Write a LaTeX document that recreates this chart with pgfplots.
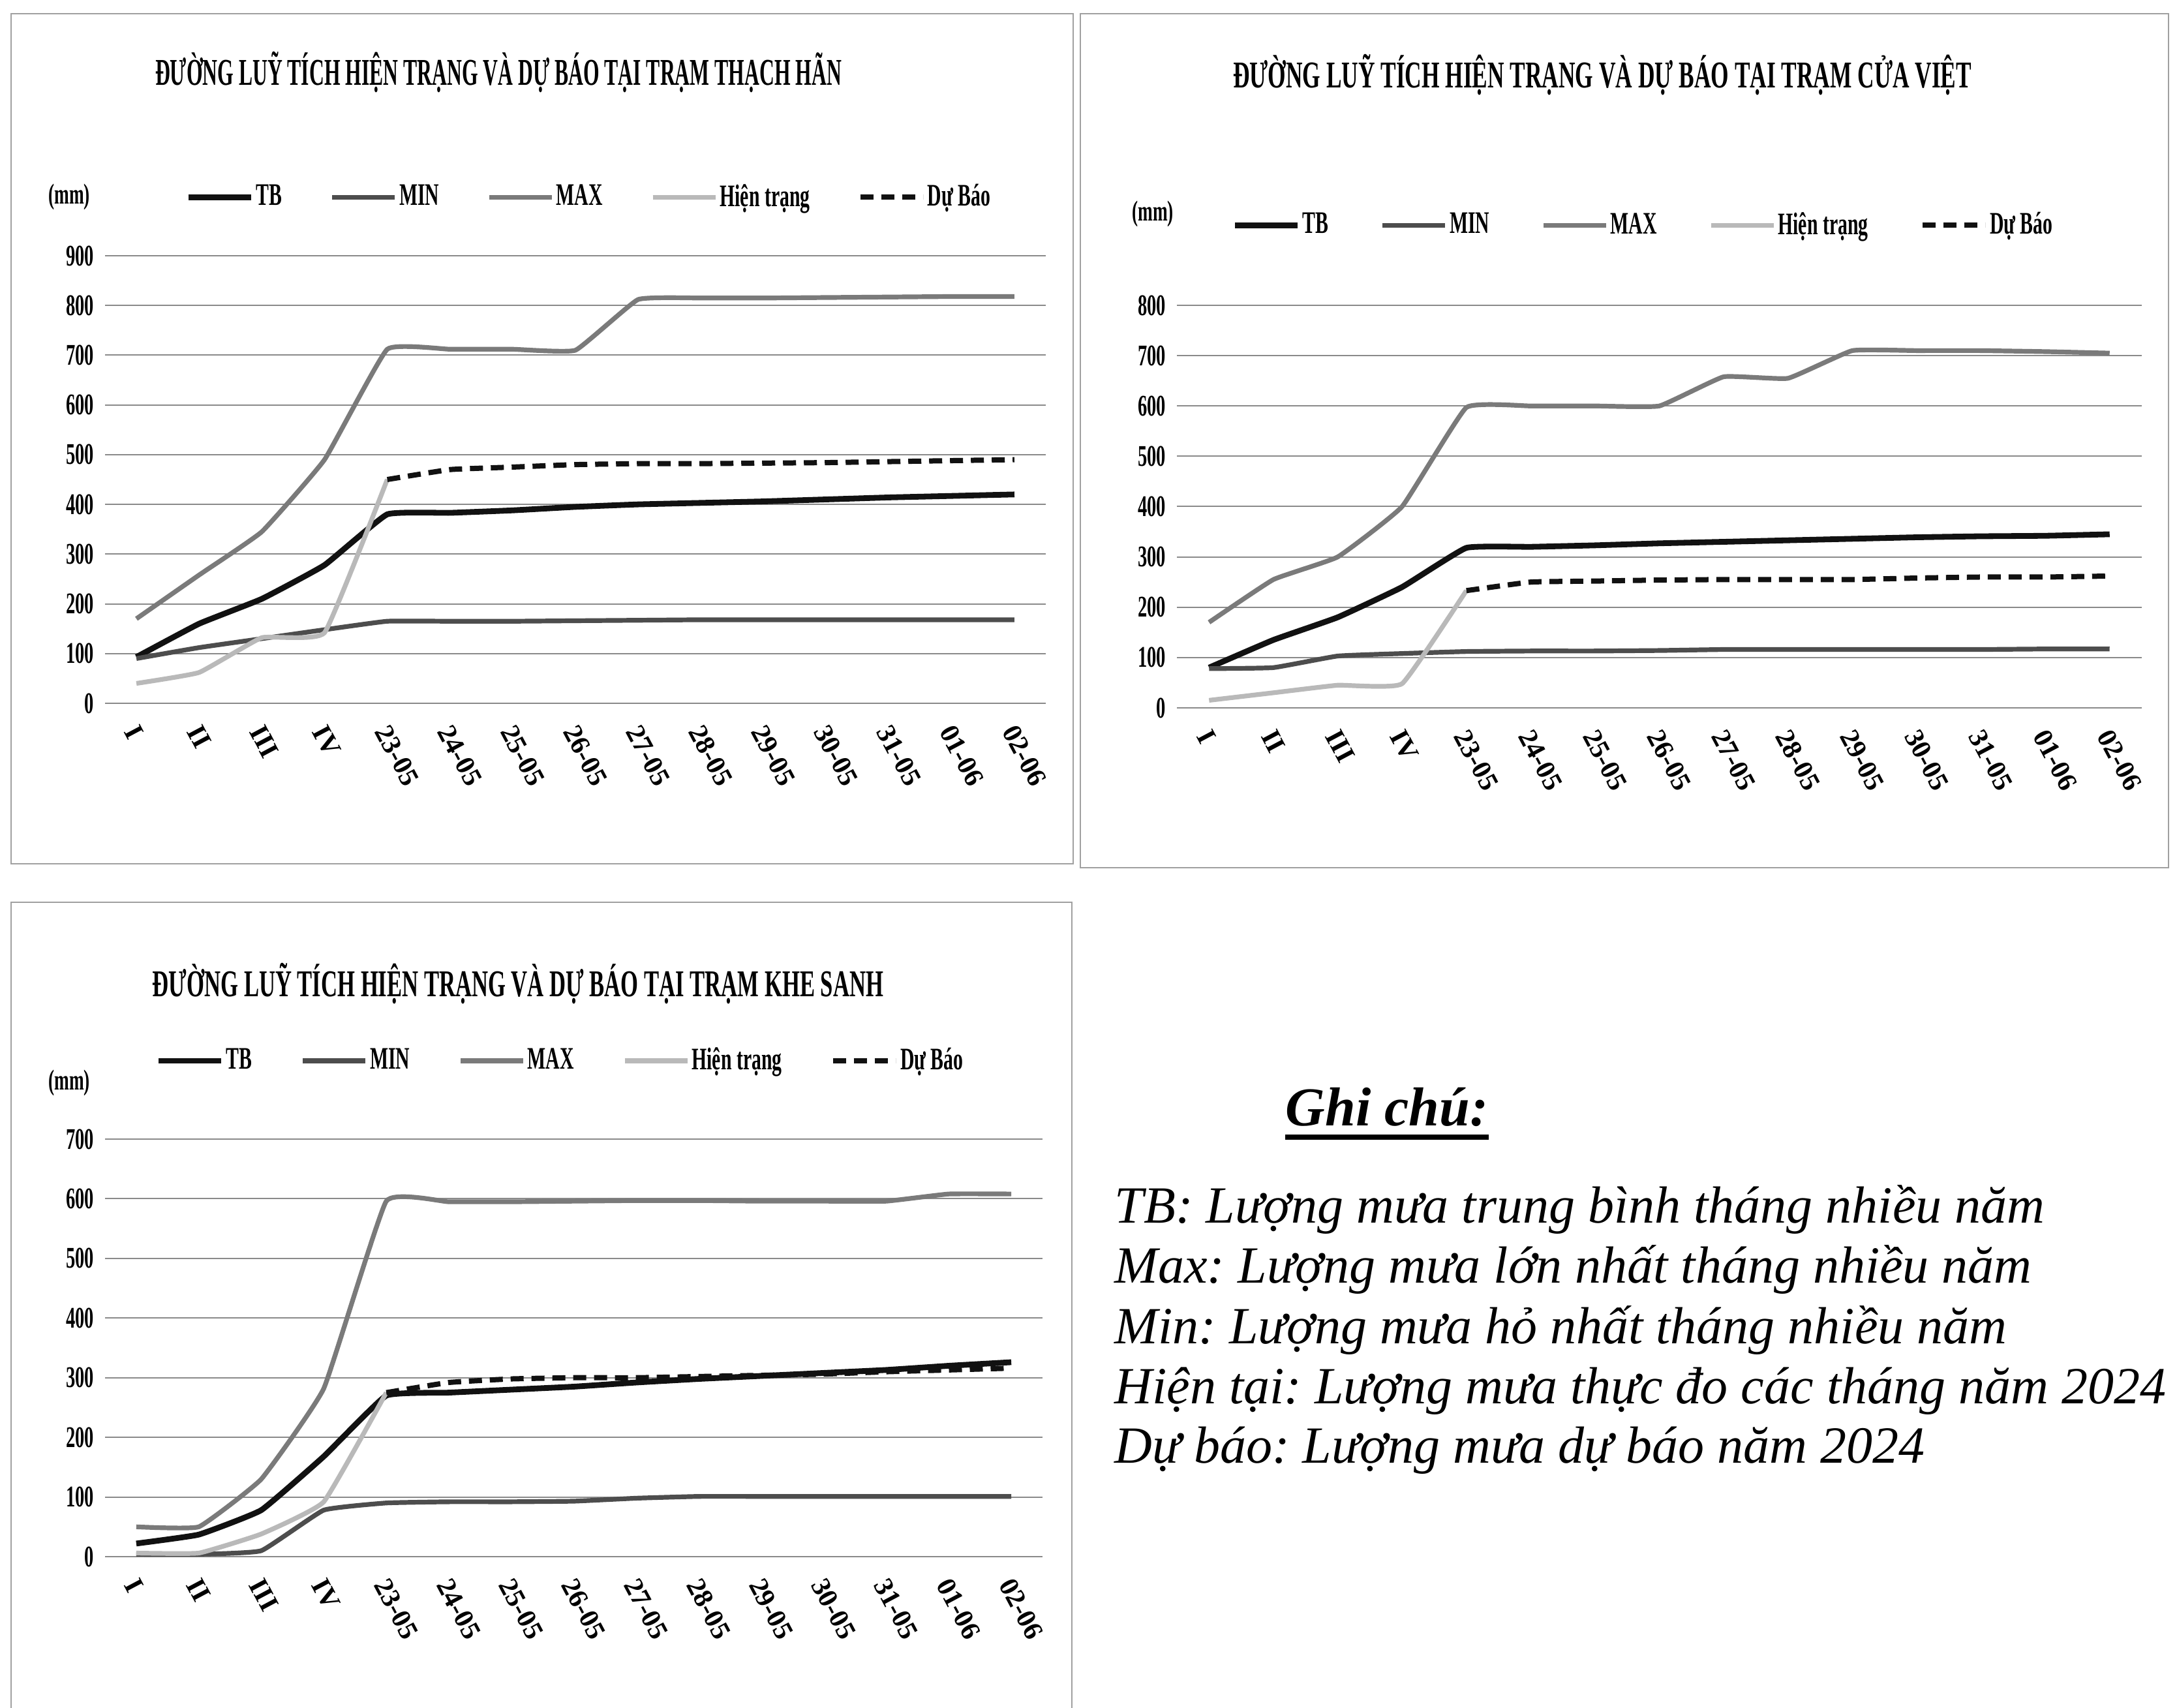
\documentclass[border=0pt]{standalone}
\usepackage{fontspec}
\setmainfont{Liberation Serif}
\newfontfamily\cond[FakeStretch=0.62]{Liberation Serif}
\usepackage{graphicx}
\usepackage{pgfplots}
\pgfplotsset{compat=1.18}

\definecolor{cTB}{HTML}{111111}
\definecolor{cMIN}{HTML}{4D4D4D}
\definecolor{cMAX}{HTML}{7A7A7A}
\definecolor{cHT}{HTML}{B9B9B9}
\definecolor{cGrid}{HTML}{8A8A8A}
\definecolor{cFrame}{HTML}{A0A0A0}

\pgfplotsset{
  tram/.style={
    scale only axis, anchor=south west,
    xmin=-0.5, xmax=14.5, ymin=0,
    xtick={0,...,14},
    xticklabels={I,II,III,IV,23-05,24-05,25-05,26-05,27-05,28-05,29-05,30-05,31-05,01-06,02-06},
    ymajorgrids, grid style={cGrid, line width=0.5pt},
    axis line style={draw=none}, tick style={draw=none}, major tick length=0pt,
    clip=false,
    /pgf/number format/assume math mode=true,
    yticklabel style={font=\cond\bfseries\fontsize{11.5}{12}\selectfont, anchor=east, inner sep=0pt, xshift=-4pt},
    xticklabel style={font=\bfseries\fontsize{10.5}{11}\selectfont, inner sep=0pt, anchor=west, yshift=-9pt, xshift=-2pt, rotate=-62},
    legend columns=5,
    legend image code/.code={\draw[##1] (0pt,0pt) -- (24pt,0pt);},
    legend style={draw=none, fill=none, inner sep=0pt, anchor=west,
      font=\cond\bfseries\fontsize{12}{12}\selectfont, nodes={inner sep=0.8pt}},
    legend cell align=left,
    every axis plot/.append style={smooth, tension=0.2},
  },
  tb/.style={cTB, line width=2.2pt},
  mn/.style={cMIN, line width=1.8pt},
  mx/.style={cMAX, line width=1.8pt},
  ht/.style={cHT, line width=1.8pt},
  db/.style={cTB, line width=2pt, dash pattern=on 5pt off 3pt},
}

\begin{document}
\frenchspacing
\begin{tikzpicture}
\fill[white] (0,0) rectangle (834.25pt,-654.5pt);
\path[use as bounding box] (0,0) rectangle (834.25pt,-654.5pt);

% frames
\draw[cFrame, line width=0.6pt] (4.25pt,-5.25pt) rectangle (411.25pt,-331pt);
\draw[cFrame, line width=0.6pt] (414pt,-5.25pt) rectangle (831pt,-332.5pt);
\draw[cFrame, line width=0.6pt] (4.25pt,-345.75pt) rectangle (410.75pt,-660pt);

% titles
\node at (191pt,-27.75pt) {\resizebox{263pt}{\height}{\bfseries\fontsize{14.5}{15}\selectfont ĐƯỜNG LUỸ TÍCH HIỆN TRẠNG VÀ DỰ BÁO TẠI TRẠM THẠCH HÃN}};
\node at (614pt,-28.75pt) {\resizebox{283pt}{\height}{\bfseries\fontsize{14.5}{15}\selectfont ĐƯỜNG LUỸ TÍCH HIỆN TRẠNG VÀ DỰ BÁO TẠI TRẠM CỬA VIỆT}};
\node at (198.5pt,-377pt) {\resizebox{280pt}{\height}{\bfseries\fontsize{14.5}{15}\selectfont ĐƯỜNG LUỸ TÍCH HIỆN TRẠNG VÀ DỰ BÁO TẠI TRẠM KHE SANH}};

% unit labels
\node[font=\cond\bfseries\fontsize{11}{12}\selectfont] at (26.5pt,-75.5pt) {(mm)};
\node[font=\cond\bfseries\fontsize{11}{12}\selectfont] at (441.75pt,-82pt) {(mm)};
\node[font=\cond\bfseries\fontsize{11}{12}\selectfont] at (26.5pt,-415pt) {(mm)};

% Thach Han
\begin{axis}[tram, at={(40.25pt,-269.5pt)}, width=360.5pt, height=171.5pt,
  ymax=900, ytick={0,100,...,900},
  legend style={at={(0.0853,1.131)}, /tikz/every even column/.append style={column sep=17.5pt}}]
\addplot[tb] coordinates {(0,93)(1,160)(2,210)(3,278)(4,380)(5,383)(6,388)(7,395)(8,400)(9,403)(10,406)(11,410)(12,414)(13,417)(14,420)};
\addplot[mn] coordinates {(0,90)(1,112)(2,130)(3,148)(4,165)(5,165)(6,165)(7,166)(8,167)(9,168)(10,168)(11,168)(12,168)(13,168)(14,168)};
\addplot[mx] coordinates {(0,170)(1,258)(2,345)(3,490)(4,712)(5,712)(6,712)(7,710)(8,812)(9,815)(10,815)(11,816)(12,817)(13,818)(14,818)};
\addplot[ht] coordinates {(0,40)(1,62)(2,132)(3,142)(4,450)};
\addplot[db] coordinates {(4,450)(5,470)(6,475)(7,480)(8,482)(9,482)(10,483)(11,484)(12,486)(13,488)(14,490)};
\legend{TB, MIN, MAX, Hiện trạng, Dự Báo}
\end{axis}

% Cua Viet
\begin{axis}[tram, at={(451pt,-271.25pt)}, width=369.75pt, height=154.25pt,
  ymax=800, ytick={0,100,...,800},
  legend style={at={(0.0568,1.199)}, /tikz/every even column/.append style={column sep=19pt}}]
\addplot[tb] coordinates {(0,80)(1,135)(2,180)(3,240)(4,318)(5,320)(6,323)(7,327)(8,330)(9,333)(10,336)(11,339)(12,341)(13,342)(14,345)};
\addplot[mn] coordinates {(0,78)(1,80)(2,103)(3,108)(4,112)(5,113)(6,113)(7,114)(8,116)(9,116)(10,116)(11,116)(12,116)(13,117)(14,117)};
\addplot[mx] coordinates {(0,170)(1,255)(2,300)(3,400)(4,597)(5,600)(6,600)(7,600)(8,658)(9,655)(10,710)(11,710)(12,710)(13,708)(14,705)};
\addplot[ht] coordinates {(0,15)(1,30)(2,45)(3,48)(4,233)};
\addplot[db] coordinates {(4,233)(5,250)(6,252)(7,254)(8,255)(9,255)(10,255)(11,258)(12,260)(13,260)(14,262)};
\legend{TB, MIN, MAX, Hiện trạng, Dự Báo}
\end{axis}

% Khe Sanh
\begin{axis}[tram, at={(40.25pt,-596.5pt)}, width=359.25pt, height=160pt,
  ymax=700, ytick={0,100,...,700},
  legend style={at={(0.0536,1.1875)}, /tikz/every even column/.append style={column sep=17.75pt}}]
\addplot[tb] coordinates {(0,22)(1,37)(2,78)(3,168)(4,270)(5,275)(6,280)(7,285)(8,292)(9,298)(10,303)(11,308)(12,313)(13,320)(14,326)};
\addplot[mn] coordinates {(0,4)(1,4)(2,10)(3,78)(4,90)(5,92)(6,92)(7,93)(8,98)(9,101)(10,101)(11,101)(12,101)(13,101)(14,101)};
\addplot[mx] coordinates {(0,50)(1,50)(2,130)(3,282)(4,596)(5,595)(6,595)(7,596)(8,597)(9,597)(10,596)(11,596)(12,596)(13,608)(14,608)};
\addplot[ht] coordinates {(0,6)(1,6)(2,38)(3,92)(4,275)};
\addplot[db] coordinates {(4,275)(5,292)(6,298)(7,300)(8,300)(9,302)(10,304)(11,306)(12,310)(13,313)(14,316)};
\legend{TB, MIN, MAX, Hiện trạng, Dự Báo}
\end{axis}

% note
\node[anchor=base west, inner sep=0pt, font=\bfseries\itshape\fontsize{21}{24}\selectfont] (g) at (492.5pt,-431.25pt) {Ghi chú:};
\draw[line width=1.8pt] ([yshift=-4.5pt]g.base west) -- ([yshift=-4.5pt]g.base east);
\begin{scope}[every node/.style={anchor=base west, inner sep=0pt, font=\itshape\fontsize{20}{23}\selectfont}]
\node at (427pt,-468.5pt) {TB: Lượng mưa trung bình tháng nhiều năm};
\node at (427pt,-491.5pt) {Max: Lượng mưa lớn nhất tháng nhiều năm};
\node at (427pt,-514.75pt) {Min: Lượng mưa hỏ nhất tháng nhiều năm};
\node at (427pt,-537.75pt) {Hiện tại: Lượng mưa thực đo các tháng năm 2024};
\node at (427pt,-560.5pt) {Dự báo: Lượng mưa dự báo năm 2024};
\end{scope}
\end{tikzpicture}
\end{document}
